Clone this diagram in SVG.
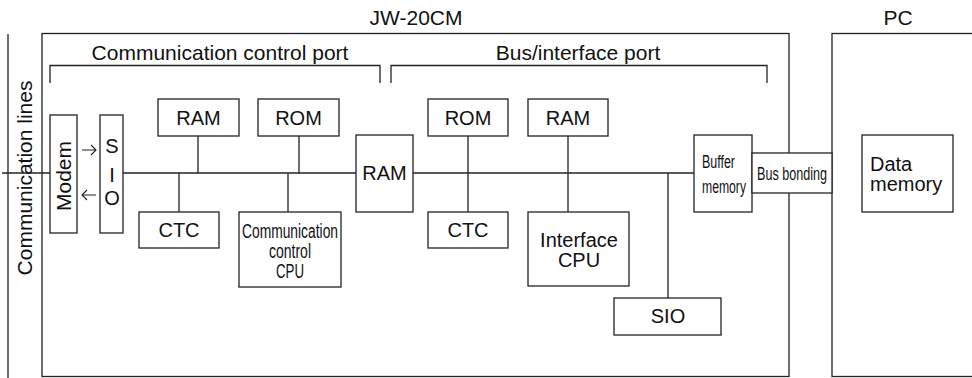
<svg xmlns="http://www.w3.org/2000/svg" width="972" height="378" viewBox="0 0 972 378">
<style>
.b{fill:#fff;stroke:#222;stroke-width:1.3}
.l{fill:none;stroke:#222;stroke-width:1.3}
.a{fill:none;stroke:#222;stroke-width:1.1}
text{font-family:"Liberation Sans",Arial,sans-serif;fill:#111;font-size:20px}
.c{text-anchor:middle}
.h{font-size:21px}
</style>
<rect width="972" height="378" fill="#fff"/>
<g id="frames">
<text class="c h" x="416" y="25">JW-20CM</text>
<text class="c h" x="898" y="25">PC</text>
<rect id="jw20cm" class="l" x="42" y="33.5" width="747" height="343"/>
<rect id="pc" class="l" x="832" y="33.5" width="150" height="343"/>
<line class="l" x1="8" y1="34" x2="8" y2="378"/>
<text class="c h" transform="rotate(-90 32 178)" x="32" y="178">Communication lines</text>
<text class="c h" x="220" y="60">Communication control port</text>
<text class="c h" x="578" y="60">Bus/interface port</text>
<path class="l" d="M50,83 V65.5 H380 V83"/>
<path class="l" d="M391,83 V65.5 H767 V83"/>
</g>
<g id="connectors">
<line class="l" x1="2" y1="173" x2="50" y2="173"/>
<line class="l" x1="123" y1="173" x2="356" y2="173"/>
<line class="l" x1="413" y1="173" x2="694" y2="173"/>
<line class="l" x1="198" y1="136" x2="198" y2="173"/>
<line class="l" x1="299" y1="136" x2="299" y2="173"/>
<line class="l" x1="179" y1="173" x2="179" y2="212"/>
<line class="l" x1="288" y1="173" x2="288" y2="212"/>
<line class="l" x1="468" y1="136" x2="468" y2="212"/>
<line class="l" x1="568" y1="136" x2="568" y2="212"/>
<line class="l" x1="668" y1="173" x2="668" y2="298"/>
<path class="a" d="M82,150 H96 M91,145 L96,150 L91,155"/>
<path class="a" d="M96,195 H82 M87,190 L82,195 L87,200"/>
</g>
<g id="modem">
<rect class="b" x="50" y="115" width="27" height="118"/>
<text class="c" transform="rotate(-90 71 176)" x="71" y="176" style="font-size:21px">Modem</text>
</g>
<g id="sio1">
<rect class="b" x="100" y="115" width="23" height="118"/>
<text class="c" x="112" y="153">S</text>
<text class="c" x="112" y="182">I</text>
<text class="c" x="112" y="205">O</text>
</g>
<g id="ram1">
<rect class="b" x="158" y="99" width="81" height="37"/>
<text class="c" x="198.5" y="125">RAM</text>
</g>
<g id="rom1">
<rect class="b" x="258" y="99" width="81" height="37"/>
<text class="c" x="298.5" y="125">ROM</text>
</g>
<g id="ctc1">
<rect class="b" x="139" y="212" width="80" height="36"/>
<text class="c" x="179" y="237">CTC</text>
</g>
<g id="cccpu">
<rect class="b" x="239" y="212" width="102" height="75"/>
<text class="c" x="290" y="238" textLength="96" lengthAdjust="spacingAndGlyphs">Communication</text>
<text class="c" x="290" y="258" textLength="42" lengthAdjust="spacingAndGlyphs">control</text>
<text class="c" x="290" y="278" textLength="28" lengthAdjust="spacingAndGlyphs">CPU</text>
</g>
<g id="ram-mid">
<rect class="b" x="356" y="135" width="57" height="77"/>
<text class="c" x="384.5" y="180">RAM</text>
</g>
<g id="rom2">
<rect class="b" x="428" y="99" width="80" height="37"/>
<text class="c" x="468" y="125">ROM</text>
</g>
<g id="ram2">
<rect class="b" x="528" y="99" width="80" height="37"/>
<text class="c" x="568" y="125">RAM</text>
</g>
<g id="ctc2">
<rect class="b" x="428" y="212" width="80" height="36"/>
<text class="c" x="468" y="237">CTC</text>
</g>
<g id="ifcpu">
<rect class="b" x="528" y="212" width="101" height="74"/>
<text class="c" x="579" y="247">Interface</text>
<text class="c" x="579" y="267">CPU</text>
</g>
<g id="sio2">
<rect class="b" x="614" y="298" width="107" height="37"/>
<text class="c" x="668" y="323">SIO</text>
</g>
<g id="buffer">
<rect class="b" x="694" y="135" width="58" height="77"/>
<text x="702" y="168" style="font-size:18px" textLength="33" lengthAdjust="spacingAndGlyphs">Buffer</text>
<text x="702" y="193" style="font-size:18px" textLength="44" lengthAdjust="spacingAndGlyphs">memory</text>
</g>
<g id="busbond">
<rect class="b" x="752" y="153" width="80" height="40"/>
<text x="757" y="180" style="font-size:18px" textLength="70" lengthAdjust="spacingAndGlyphs">Bus bonding</text>
</g>
<g id="datamem">
<rect class="b" x="862" y="135" width="91" height="77"/>
<text x="870" y="171">Data</text>
<text x="870" y="191">memory</text>
</g>
</svg>
